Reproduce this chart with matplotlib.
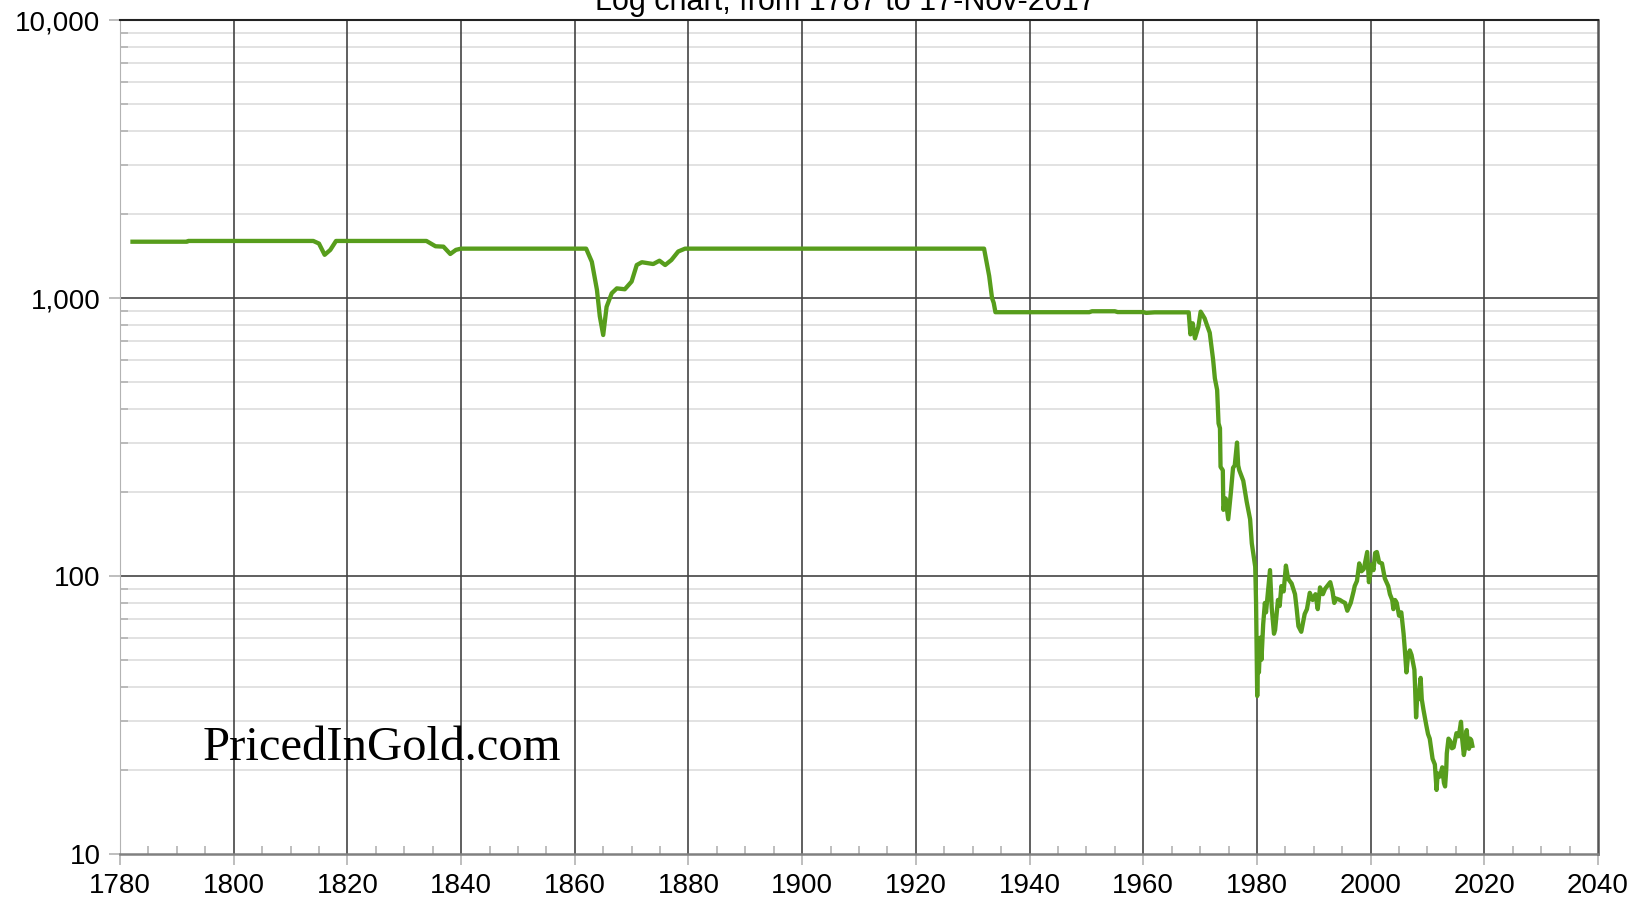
import numpy as np
import matplotlib.pyplot as plt
from matplotlib.ticker import FixedLocator, NullFormatter

# milligrams of gold per dollar
years = [1782.2, 1791.8, 1792.0, 1814.0, 1815.0, 1816.0, 1817.0, 1818.0,
         1833.9, 1835.5, 1836.9, 1838.1, 1839.1, 1840.0,
         1862.0, 1863.0, 1863.9, 1864.4, 1865.0, 1865.6, 1866.5, 1867.4,
         1868.8, 1870.0, 1870.9, 1871.8, 1873.8, 1874.9, 1875.9, 1877.0,
         1878.2, 1879.4,
         1932.0, 1932.9, 1933.4, 1933.7, 1934.0, 1950.5, 1951.0, 1955.0,
         1955.5, 1960.0, 1960.5, 1962.0, 1968.0,
         1968.3, 1968.7, 1969.1, 1969.7, 1970.1, 1970.8, 1971.2, 1971.7,
         1972.3, 1972.6, 1973.0, 1973.25, 1973.5, 1973.6, 1974.0, 1974.1,
         1974.5, 1974.95, 1975.4, 1975.8, 1976.1, 1976.5, 1976.7, 1976.9,
         1977.6, 1978.2, 1978.8, 1979.1, 1979.7, 1979.85, 1980.05, 1980.2,
         1980.35, 1980.6, 1980.8, 1981.1, 1981.4, 1981.6, 1982.0, 1982.3,
         1982.5, 1982.6, 1983.0, 1983.2, 1983.7, 1984.0, 1984.3, 1984.7,
         1985.1, 1985.4, 1985.6, 1986.1, 1986.7, 1987.0, 1987.3, 1987.8,
         1988.4, 1988.8, 1989.3, 1989.8, 1990.3, 1990.7, 1991.1, 1991.6,
         1992.0, 1992.9, 1993.3, 1993.6, 1993.9, 1994.6, 1995.0, 1995.5,
         1995.9, 1996.5, 1997.0, 1997.2, 1997.6, 1998.0, 1998.4, 1998.8,
         1999.4, 1999.7, 2000.2, 2000.5, 2000.8, 2001.1, 2001.5, 2002.0,
         2002.5, 2003.1, 2003.4, 2003.8, 2004.0, 2004.3, 2004.6, 2005.0,
         2005.4, 2005.8, 2006.0, 2006.3, 2006.6, 2006.9, 2007.2, 2007.7,
         2007.8, 2008.0, 2008.2, 2008.4, 2008.8, 2009.0, 2009.3, 2009.8,
         2010.1, 2010.4, 2010.9, 2011.3, 2011.6, 2011.8, 2012.2, 2012.6,
         2012.9, 2013.1, 2013.3, 2013.4, 2013.7, 2014.0, 2014.3, 2014.6,
         2014.9, 2015.1, 2015.5, 2015.9, 2016.1, 2016.4, 2016.6, 2016.9,
         2017.1, 2017.3, 2017.5, 2017.7, 2017.9]
values = [1594, 1594, 1604, 1604, 1570, 1430, 1490, 1604,
          1604, 1535, 1530, 1440, 1490, 1505,
          1505, 1350, 1070, 860, 736, 930, 1040, 1083,
          1075, 1146, 1314, 1345, 1325, 1362, 1314, 1370,
          1470, 1505,
          1505, 1200, 1000, 960, 889, 889, 896, 896,
          890, 890, 884, 888, 888,
          740, 811, 716, 788, 893, 845, 800, 750,
          598, 514, 467, 354, 340, 247, 240, 173,
          190, 160, 198, 245, 250, 302, 250, 240,
          220, 185, 160, 131, 108, 80, 37, 55,
          45, 60, 50, 67, 80, 74, 90, 105,
          85, 77, 62, 64, 82, 78, 92, 88,
          109, 100, 97, 94, 86, 76, 66, 63,
          73, 76, 87, 82, 86, 76, 91, 86,
          90, 95, 88, 80, 83, 82, 81, 80,
          75, 80, 88, 92, 96, 111, 104, 106,
          122, 95, 110, 105, 121, 122, 112, 111,
          98, 92, 86, 82, 76, 82, 80, 72,
          74, 62, 55, 45, 52, 54, 52, 46,
          41, 31, 37, 36, 43, 36, 33, 29,
          27, 26, 22, 21, 17, 19.5, 19, 20.5,
          18, 17.5, 20, 23, 26, 25.5, 24, 24.2,
          26, 27.2, 26.5, 29.9, 26, 22.7, 24, 27.9,
          25, 23.9, 26, 25.7, 24.5]

year_ticks = np.arange(1780, 2041, 20)
value_ticks = [10, 100, 1000, 10000]
value_labels = ["10", "100", "1,000", "10,000"]

plt.rcParams['font.family'] = ['Liberation Sans', 'DejaVu Sans']

fig = plt.figure(figsize=(16.41, 9.06), dpi=100)
ax = fig.add_axes([120/1641, 52/906, 1478/1641, 834/906])

ax.plot(years, values, color="#579d1c", lw=3.1, solid_joinstyle='round', zorder=3)

ax.set_yscale('log')
ax.set_xlim(1780, 2040)
ax.set_ylim(10, 10000)

ax.set_xticks(year_ticks)
ax.set_xticklabels([str(y) for y in year_ticks])
ax.xaxis.set_minor_locator(FixedLocator(np.arange(1785, 2040, 5)))
ax.set_yticks(value_ticks)
ax.set_yticklabels(value_labels)
minor_y = [m * 10**e for e in range(1, 4) for m in range(2, 10)]
ax.yaxis.set_minor_locator(FixedLocator(minor_y))
ax.yaxis.set_minor_formatter(NullFormatter())

ax.tick_params(which='major', direction='out', length=8, width=1.2,
               color='#b3b3b3', labelsize=20, pad=6, labelcolor='black')
ax.tick_params(which='minor', direction='in', length=6, width=1.2, color='#b3b3b3')

for v in minor_y:
    ax.axhline(v, color='#dddddd', lw=1.2, zorder=1)
for v in [100, 1000]:
    ax.axhline(v, color='#444444', lw=1.2, zorder=2)
for y in year_ticks[1:-1]:
    ax.axvline(y, color='#444444', lw=1.2, zorder=2)

ax.spines['left'].set_color('#b3b3b3')
ax.spines['bottom'].set_color('#808080')
ax.spines['bottom'].set_linewidth(1.8)
ax.spines['top'].set_color('#222222')
ax.spines['top'].set_linewidth(1.5)
ax.spines['right'].set_color('#555555')
ax.spines['right'].set_linewidth(1.8)

fig.text(845/1641, 1 - 10/906, "Log chart, from 1787 to 17-Nov-2017",
         ha='center', va='baseline', fontsize=22)
fig.text(203/1641, 1 - 760/906, "PricedInGold.com", ha='left', va='baseline',
         fontsize=35, family='Liberation Serif', zorder=5)

fig.savefig("out.png", dpi=100)
